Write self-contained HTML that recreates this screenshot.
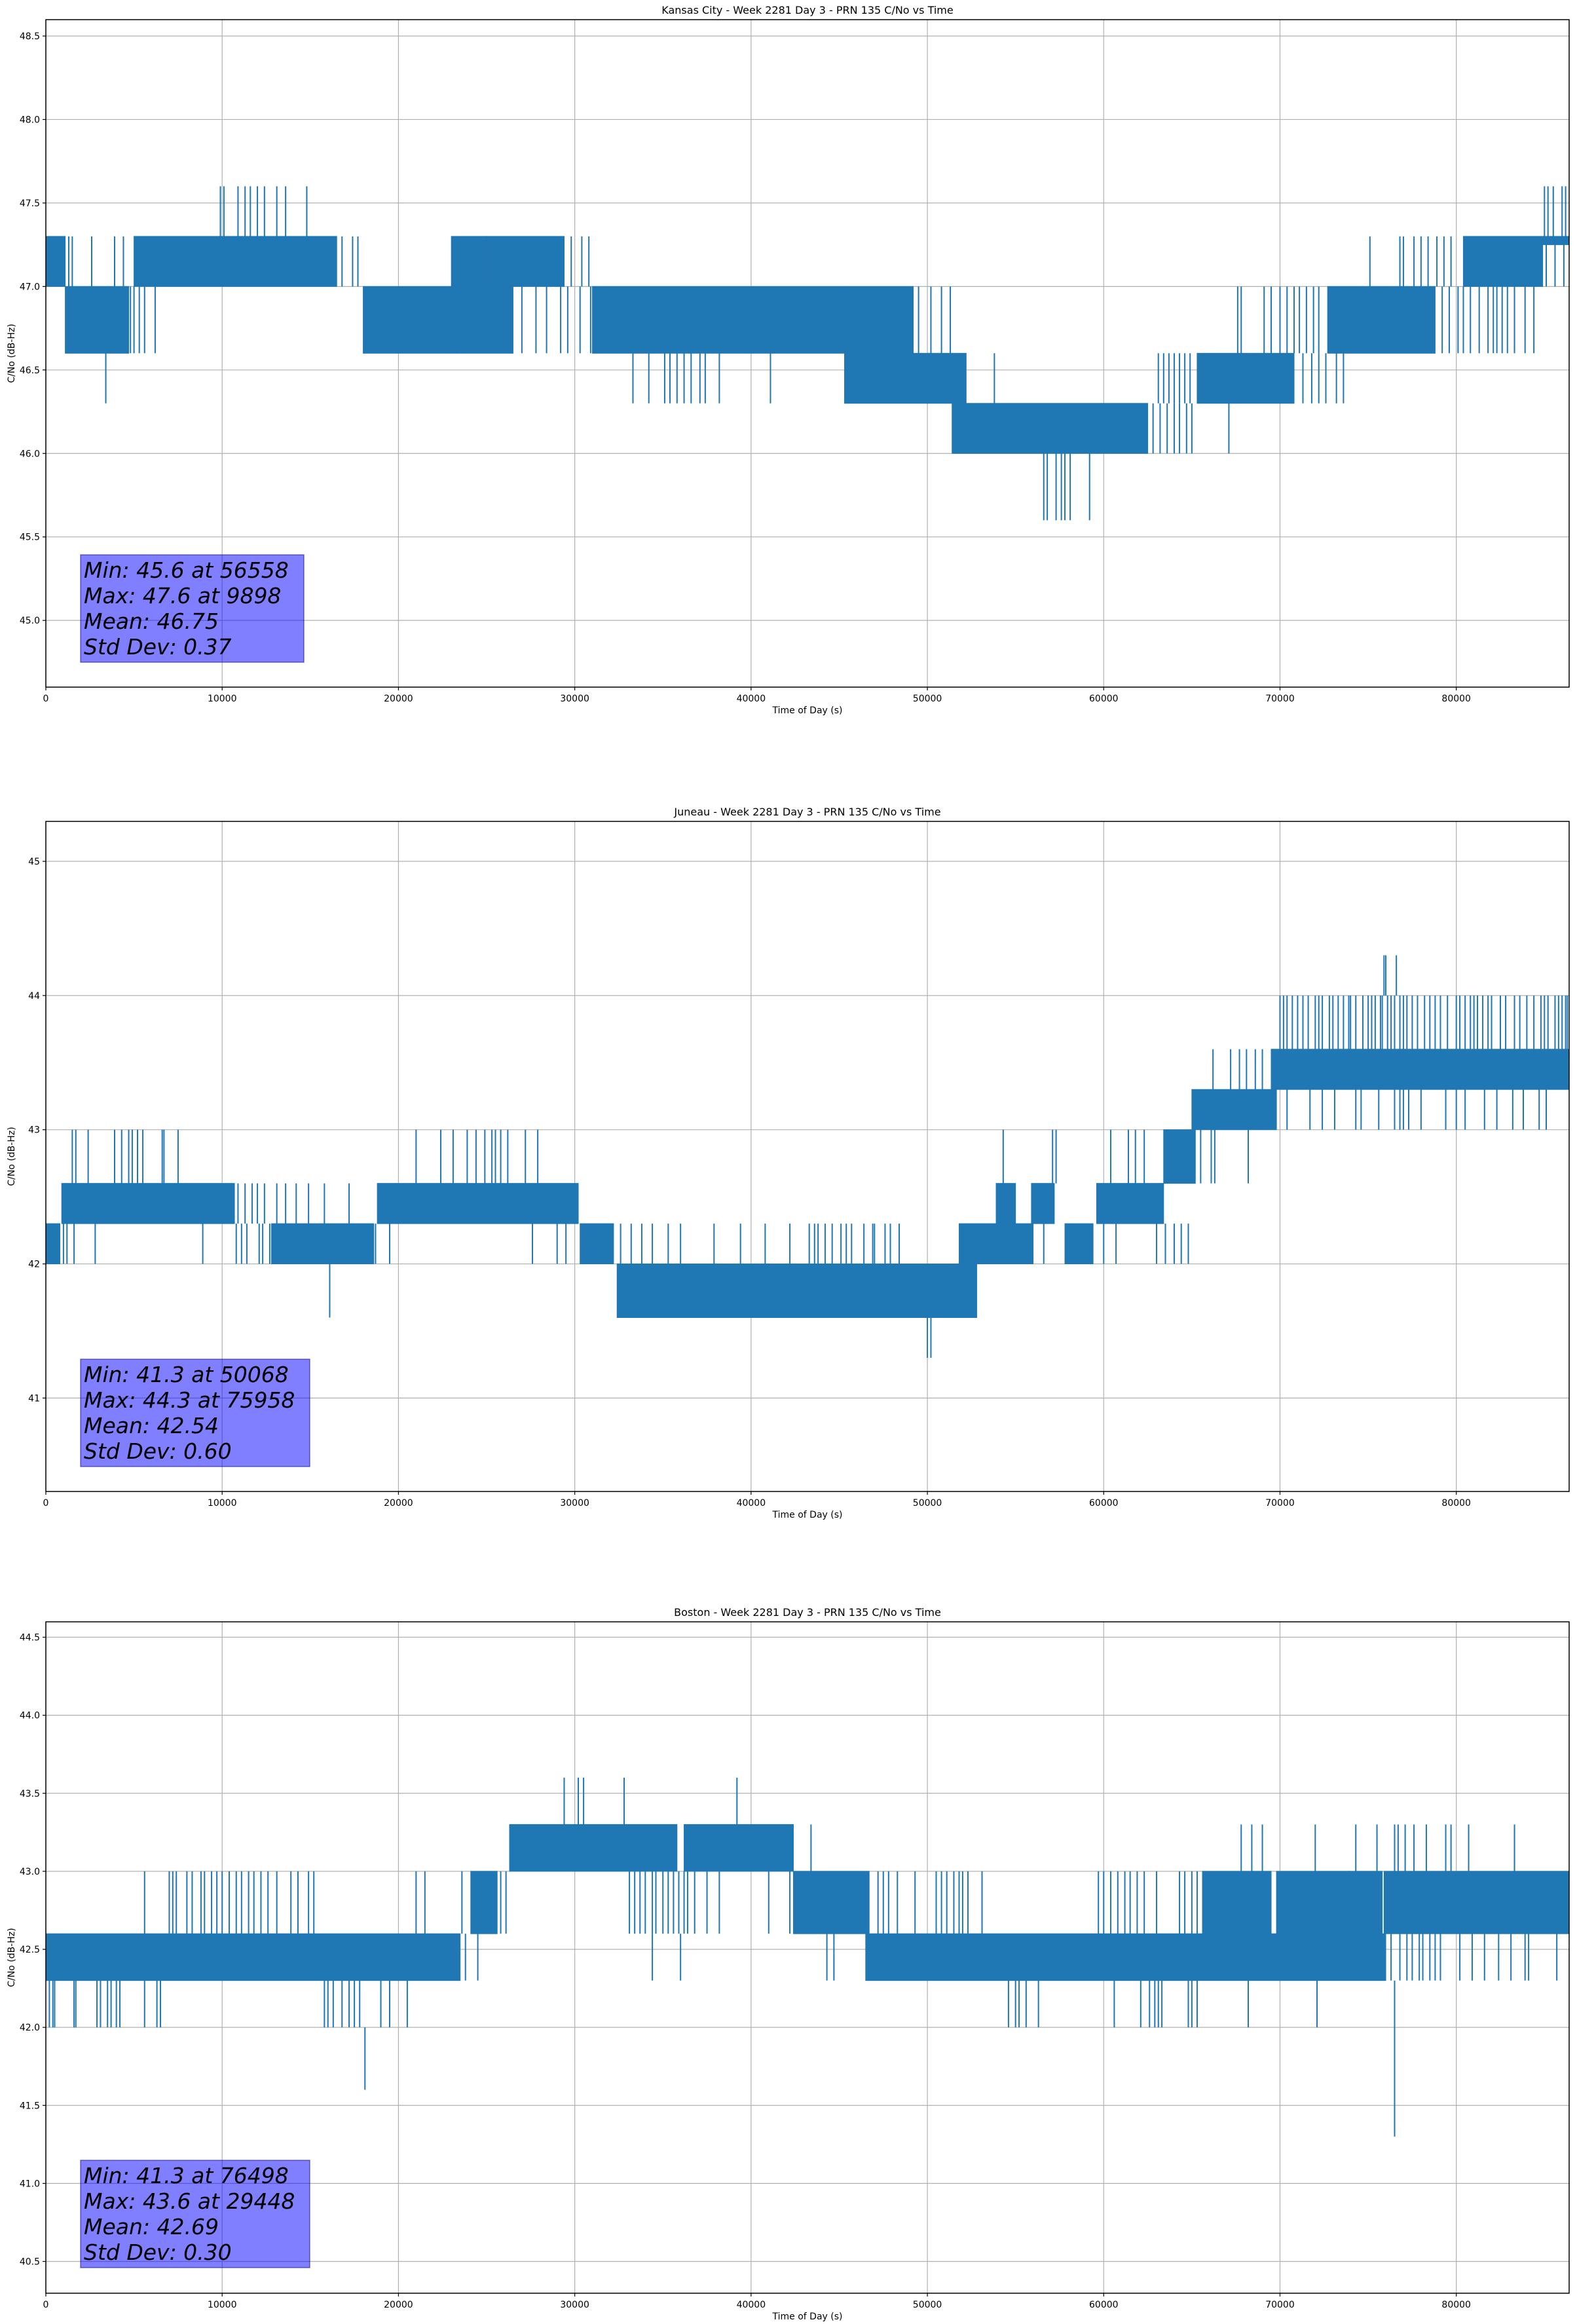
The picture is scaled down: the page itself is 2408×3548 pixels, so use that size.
<!DOCTYPE html>
<html><head><meta charset="utf-8">
<style>
html,body{margin:0;padding:0;background:#fff;}
svg{display:block;}
text{font-family:"DejaVu Sans","Liberation Sans",sans-serif;fill:#000;}
</style></head>
<body>
<svg id="fig" xmlns="http://www.w3.org/2000/svg" width="2408" height="3548" viewBox="0 0 2408 3548"></svg>
<script>
// ---------- shared x axis ----------
const xTickValues = [0,10000,20000,30000,40000,50000,60000,70000,80000];
const xTickLabels = ["0","10000","20000","30000","40000","50000","60000","70000","80000"];

// ---------- Kansas City ----------
const kcTitle = "Kansas City - Week 2281 Day 3 - PRN 135 C/No vs Time";
const kcYTicks = [45.0,45.5,46.0,46.5,47.0,47.5,48.0,48.5];
const kcYTickLabels = ["45.0","45.5","46.0","46.5","47.0","47.5","48.0","48.5"];
const kcBandStart = [0,1100,5000,18000,23300,25000,31000,45300,51400,65300,72700,80400,84900,45300,23000];
const kcBandEnd   = [1100,4700,16500,23300,26500,29400,45300,52200,62500,70800,78800,84900,86400,49200,25000];
const kcBandLow   = [47.0,46.6,47.0,46.6,46.6,47.0,46.6,46.3,46.0,46.3,46.6,47.0,47.25,46.6,47.0];
const kcBandHigh  = [47.3,47.0,47.3,47.0,47.0,47.3,47.0,46.6,46.3,46.6,47.0,47.3,47.3,47.0,47.3];
const kcSpikeT = [4800,5000,5300,5600,6200,16300,16800,17400,17700,23100,23900,24300,29800,30400,30800,
  9900,10100,10900,11300,11600,12000,12400,13100,13600,14800,3400,27000,27800,28400,29200,29600,30300,30900,
  33300,34200,35100,35400,35800,36200,36600,37100,37400,38200,41100,
  49500,50200,50800,51300,
  62800,63200,63600,64000,64300,64700,65000,67100,
  56600,56800,57300,57600,57800,58100,59200,53800,
  63100,63400,63700,64000,64300,64600,64900,71300,71800,72200,72600,73200,73600,
  67600,67800,69100,69500,70000,70400,70800,71100,71500,71900,72200,79200,79600,80100,80400,80800,81300,81800,82300,82900,
  75100,76800,77000,77600,78000,78400,78900,79300,79700,85100,85600,86100,
  85000,85200,85500,86000,86200,
  1300,1500,2600,3900,4400,82100,82600,83300,83900,84400];
const kcSpikeLow = [46.6,46.6,46.6,46.6,46.6,47.0,47.0,47.0,47.0,47.0,47.0,47.0,47.0,47.0,47.0,
  47.3,47.3,47.3,47.3,47.3,47.3,47.3,47.3,47.3,47.3,46.3,46.6,46.6,46.6,46.6,46.6,46.6,46.6,
  46.3,46.3,46.3,46.3,46.3,46.3,46.3,46.3,46.3,46.3,46.3,
  46.6,46.6,46.6,46.6,
  46.0,46.0,46.0,46.0,46.0,46.0,46.0,46.0,
  45.6,45.6,45.6,45.6,45.6,45.6,45.6,46.3,
  46.3,46.3,46.3,46.3,46.3,46.3,46.3,46.3,46.3,46.3,46.3,46.3,46.3,
  46.6,46.6,46.6,46.6,46.6,46.6,46.6,46.6,46.6,46.6,46.6,46.6,46.6,46.6,46.6,46.6,46.6,46.6,46.6,46.6,
  47.0,47.0,47.0,47.0,47.0,47.0,47.0,47.0,47.0,47.0,47.0,47.0,
  47.3,47.3,47.3,47.3,47.3,
  47.0,47.0,47.0,47.0,47.0,46.6,46.6,46.6,46.6,46.6];
const kcSpikeHigh = [47.0,47.0,47.0,47.0,47.0,47.3,47.3,47.3,47.3,47.3,47.3,47.3,47.3,47.3,47.3,
  47.6,47.6,47.6,47.6,47.6,47.6,47.6,47.6,47.6,47.6,46.6,47.0,47.0,47.0,47.0,47.0,47.0,47.0,
  46.6,46.6,46.6,46.6,46.6,46.6,46.6,46.6,46.6,46.6,46.6,
  47.0,47.0,47.0,47.0,
  46.3,46.3,46.3,46.3,46.3,46.3,46.3,46.3,
  46.0,46.0,46.0,46.0,46.0,46.0,46.0,46.6,
  46.6,46.6,46.6,46.6,46.6,46.6,46.6,46.6,46.6,46.6,46.6,46.6,46.6,
  47.0,47.0,47.0,47.0,47.0,47.0,47.0,47.0,47.0,47.0,47.0,47.0,47.0,47.0,47.0,47.0,47.0,47.0,47.0,47.0,
  47.3,47.3,47.3,47.3,47.3,47.3,47.3,47.3,47.3,47.3,47.3,47.3,
  47.6,47.6,47.6,47.6,47.6,
  47.3,47.3,47.3,47.3,47.3,47.0,47.0,47.0,47.0,47.0];
const kcStats = ["Min: 45.6 at 56558","Max: 47.6 at 9898","Mean: 46.75","Std Dev: 0.37"];

// ---------- Juneau ----------
const jnTitle = "Juneau - Week 2281 Day 3 - PRN 135 C/No vs Time";
const jnYTicks = [41,42,43,44,45];
const jnYTickLabels = ["41","42","43","44","45"];
const jnBandStart = [0,900,12800,18800,30300,32400,51800,57800,53900,55900,59600,63400,65000,69500];
const jnBandEnd   = [800,10700,18600,30200,32200,52800,56000,59400,55000,57200,63400,65200,69800,86400];
const jnBandLow   = [42.0,42.3,42.0,42.3,42.0,41.6,42.0,42.0,42.3,42.3,42.3,42.6,43.0,43.3];
const jnBandHigh  = [42.3,42.6,42.3,42.6,42.3,42.0,42.3,42.3,42.6,42.6,42.6,43.0,43.3,43.6];
const jnSpikeT = [1000,1200,1600,2800,8900,10800,11100,11400,12100,12300,12700,18700,19500,27600,29000,29500,32600,33200,33800,
  1500,1700,2400,3900,4300,4700,4900,5200,5500,6600,6700,7500,21000,22400,23100,23900,24400,24900,25300,25500,25800,26200,27200,27900,
  10900,11300,11700,12000,12400,13100,13600,14200,14900,15800,17200,16100,50000,50200,
  34400,35300,36000,37900,39400,40800,42200,43300,43800,44200,45100,45700,46400,47000,47900,48400,56600,60000,60700,63000,
  54300,57100,57300,60400,61400,61800,62300,65500,66100,66300,68200,
  70400,72400,74300,74600,75600,76500,76800,77000,77300,78000,79400,80000,80500,82300,83800,84700,85100,
  66200,67200,67700,68100,68600,69000,
  70000,70400,71300,72000,72400,72800,73300,73600,74000,75200,75700,76100,76500,77200,77500,78200,79100,79500,80000,80500,81200,81800,82500,84000,84400,85200,85600,86000,86300,
  75900,76000,76600,
  70200,70700,71000,71600,72200,73000,73900,74300,74700,75000,75400,75800,76300,76800,77000,77800,78500,78800,80200,80800,81000,81500,82000,82800,83300,83600,84800,85000,85800,86200,
  67400,67900,68400,68800,69300,71700,73100,81600,83200,
  43600,44600,45400,46900,47600,63500,64000,64400,64800];
const jnSpikeLow = [42.0,42.0,42.0,42.0,42.0,42.0,42.0,42.0,42.0,42.0,42.0,42.0,42.0,42.0,42.0,42.0,42.0,42.0,42.0,
  42.6,42.6,42.6,42.6,42.6,42.6,42.6,42.6,42.6,42.6,42.6,42.6,42.6,42.6,42.6,42.6,42.6,42.6,42.6,42.6,42.6,42.6,42.6,42.6,
  42.3,42.3,42.3,42.3,42.3,42.3,42.3,42.3,42.3,42.3,42.3,41.6,41.3,41.3,
  42.0,42.0,42.0,42.0,42.0,42.0,42.0,42.0,42.0,42.0,42.0,42.0,42.0,42.0,42.0,42.0,42.0,42.0,42.0,42.0,
  42.6,42.6,42.6,42.6,42.6,42.6,42.6,42.6,42.6,42.6,42.6,
  43.0,43.0,43.0,43.0,43.0,43.0,43.0,43.0,43.0,43.0,43.0,43.0,43.0,43.0,43.0,43.0,43.0,
  43.3,43.3,43.3,43.3,43.3,43.3,
  43.6,43.6,43.6,43.6,43.6,43.6,43.6,43.6,43.6,43.6,43.6,43.6,43.6,43.6,43.6,43.6,43.6,43.6,43.6,43.6,43.6,43.6,43.6,43.6,43.6,43.6,43.6,43.6,43.6,
  44.0,44.0,44.0,
  43.6,43.6,43.6,43.6,43.6,43.6,43.6,43.6,43.6,43.6,43.6,43.6,43.6,43.6,43.6,43.6,43.6,43.6,43.6,43.6,43.6,43.6,43.6,43.6,43.6,43.6,43.6,43.6,43.6,43.6,
  43.0,43.0,43.0,43.0,43.0,43.0,43.0,43.0,43.0,
  42.0,42.0,42.0,42.0,42.0,42.0,42.0,42.0,42.0];
const jnSpikeHigh = [42.3,42.3,42.3,42.3,42.3,42.3,42.3,42.3,42.3,42.3,42.3,42.3,42.3,42.3,42.3,42.3,42.3,42.3,42.3,
  43.0,43.0,43.0,43.0,43.0,43.0,43.0,43.0,43.0,43.0,43.0,43.0,43.0,43.0,43.0,43.0,43.0,43.0,43.0,43.0,43.0,43.0,43.0,43.0,
  42.6,42.6,42.6,42.6,42.6,42.6,42.6,42.6,42.6,42.6,42.6,42.0,41.6,41.6,
  42.3,42.3,42.3,42.3,42.3,42.3,42.3,42.3,42.3,42.3,42.3,42.3,42.3,42.3,42.3,42.3,42.3,42.3,42.3,42.3,
  43.0,43.0,43.0,43.0,43.0,43.0,43.0,43.0,43.0,43.0,43.0,
  43.3,43.3,43.3,43.3,43.3,43.3,43.3,43.3,43.3,43.3,43.3,43.3,43.3,43.3,43.3,43.3,43.3,
  43.6,43.6,43.6,43.6,43.6,43.6,
  44.0,44.0,44.0,44.0,44.0,44.0,44.0,44.0,44.0,44.0,44.0,44.0,44.0,44.0,44.0,44.0,44.0,44.0,44.0,44.0,44.0,44.0,44.0,44.0,44.0,44.0,44.0,44.0,44.0,
  44.3,44.3,44.3,
  44.0,44.0,44.0,44.0,44.0,44.0,44.0,44.0,44.0,44.0,44.0,44.0,44.0,44.0,44.0,44.0,44.0,44.0,44.0,44.0,44.0,44.0,44.0,44.0,44.0,44.0,44.0,44.0,44.0,44.0,
  43.3,43.3,43.3,43.3,43.3,43.3,43.3,43.3,43.3,
  42.3,42.3,42.3,42.3,42.3,42.3,42.3,42.3,42.3];
const jnStats = ["Min: 41.3 at 50068","Max: 44.3 at 75958","Mean: 42.54","Std Dev: 0.60"];

// ---------- Boston ----------
const bsTitle = "Boston - Week 2281 Day 3 - PRN 135 C/No vs Time";
const bsYTicks = [40.5,41.0,41.5,42.0,42.5,43.0,43.5,44.0,44.5];
const bsYTickLabels = ["40.5","41.0","41.5","42.0","42.5","43.0","43.5","44.0","44.5"];
const bsBandStart = [0,24100,26300,36200,42400,46500,65600,69800,73900,75900,72000];
const bsBandEnd   = [23500,25600,35800,42400,46700,76000,69500,72000,75800,86400,74000];
const bsBandLow   = [42.3,42.6,43.0,43.0,42.6,42.3,42.6,42.6,42.6,42.6,42.6];
const bsBandHigh  = [42.6,43.0,43.3,43.3,43.0,42.6,43.0,43.0,43.0,43.0,43.0];
const bsSpikeT = [23800,24500,44300,44700,77900,78800,83900,84100,85700,34400,36000,
  200,400,500,1600,1700,2900,3100,3500,3700,4000,4200,5600,6300,6500,15800,16000,16300,16800,17200,17500,17800,19000,19500,20500,
  54600,55000,55200,55600,56300,60600,62100,62600,62900,63100,63300,64800,65000,65300,68200,72100,
  18100,76500,
  5600,7000,7200,7400,8000,8300,8800,9000,9400,9700,10000,10400,10800,11100,11500,11800,12200,12600,13100,13900,14300,14900,15200,21000,21500,23600,
  25800,26100,33100,33400,33700,34000,34400,34600,35000,35300,35600,35900,36200,36400,36800,37500,38200,41000,42200,
  47200,47500,47800,48300,49300,50500,50800,51100,51500,51800,52000,52300,53100,59700,60000,60400,60800,61200,61500,61900,62300,63000,64300,64600,65000,65300,72600,73000,73400,
  29400,30200,30500,32800,39200,
  43400,67800,68400,69000,72000,74300,75500,76500,76700,77100,77600,78300,79400,79700,80700,83300,
  76300,76800,77200,77500,78100,78500,79100,80200,80900,81600,82400,83100];
const bsSpikeLow = [42.3,42.3,42.3,42.3,42.3,42.3,42.3,42.3,42.3,42.3,42.3,
  42.0,42.0,42.0,42.0,42.0,42.0,42.0,42.0,42.0,42.0,42.0,42.0,42.0,42.0,42.0,42.0,42.0,42.0,42.0,42.0,42.0,42.0,42.0,42.0,
  42.0,42.0,42.0,42.0,42.0,42.0,42.0,42.0,42.0,42.0,42.0,42.0,42.0,42.0,42.0,42.0,
  41.6,41.3,
  42.6,42.6,42.6,42.6,42.6,42.6,42.6,42.6,42.6,42.6,42.6,42.6,42.6,42.6,42.6,42.6,42.6,42.6,42.6,42.6,42.6,42.6,42.6,42.6,42.6,42.6,
  42.6,42.6,42.6,42.6,42.6,42.6,42.6,42.6,42.6,42.6,42.6,42.6,42.6,42.6,42.6,42.6,42.6,42.6,42.6,
  42.6,42.6,42.6,42.6,42.6,42.6,42.6,42.6,42.6,42.6,42.6,42.6,42.6,42.6,42.6,42.6,42.6,42.6,42.6,42.6,42.6,42.6,42.6,42.6,42.6,42.6,42.6,42.6,42.6,
  43.3,43.3,43.3,43.3,43.3,
  43.0,43.0,43.0,43.0,43.0,43.0,43.0,43.0,43.0,43.0,43.0,43.0,43.0,43.0,43.0,43.0,
  42.3,42.3,42.3,42.3,42.3,42.3,42.3,42.3,42.3,42.3,42.3,42.3];
const bsSpikeHigh = [42.6,42.6,42.6,42.6,42.6,42.6,42.6,42.6,42.6,42.6,42.6,
  42.3,42.3,42.3,42.3,42.3,42.3,42.3,42.3,42.3,42.3,42.3,42.3,42.3,42.3,42.3,42.3,42.3,42.3,42.3,42.3,42.3,42.3,42.3,42.3,
  42.3,42.3,42.3,42.3,42.3,42.3,42.3,42.3,42.3,42.3,42.3,42.3,42.3,42.3,42.3,42.3,
  42.0,42.3,
  43.0,43.0,43.0,43.0,43.0,43.0,43.0,43.0,43.0,43.0,43.0,43.0,43.0,43.0,43.0,43.0,43.0,43.0,43.0,43.0,43.0,43.0,43.0,43.0,43.0,43.0,
  43.0,43.0,43.0,43.0,43.0,43.0,43.0,43.0,43.0,43.0,43.0,43.0,43.0,43.0,43.0,43.0,43.0,43.0,43.0,
  43.0,43.0,43.0,43.0,43.0,43.0,43.0,43.0,43.0,43.0,43.0,43.0,43.0,43.0,43.0,43.0,43.0,43.0,43.0,43.0,43.0,43.0,43.0,43.0,43.0,43.0,43.0,43.0,43.0,
  43.6,43.6,43.6,43.6,43.6,
  43.3,43.3,43.3,43.3,43.3,43.3,43.3,43.3,43.3,43.3,43.3,43.3,43.3,43.3,43.3,43.3,
  42.6,42.6,42.6,42.6,42.6,42.6,42.6,42.6,42.6,42.6,42.6,42.6];
const bsStats = ["Min: 41.3 at 76498","Max: 43.6 at 29448","Mean: 42.69","Std Dev: 0.30"];

const NS = "http://www.w3.org/2000/svg";
const svg = document.getElementById("fig");
function mk(tag, attrs, parent){
  const e = document.createElementNS(NS, tag);
  for (const k in attrs) e.setAttribute(k, attrs[k]);
  parent.appendChild(e);
  return e;
}

const LEFT = 70, RIGHT = 2396, XMAX = 86400;
function xScale(t){ return LEFT + t * (RIGHT - LEFT) / XMAX; }

function drawChart(key, cfg, title, yTicks, yTickLabels, bS, bE, bL, bH, sT, sL, sH, stats){
  const yScale = v => cfg.y0px + (cfg.v0 - v) * cfg.pxPerUnit;
  const g = mk("g", {}, svg);
  
  

  const grid = mk("g", {stroke:"#b0b0b0","stroke-width":"1.2"}, g);
  
  
  xTickValues.forEach(v => {
    const l = mk("line", {x1:xScale(v), x2:xScale(v), y1:cfg.top, y2:cfg.bottom}, grid);
    
    
  });
  yTicks.forEach(v => {
    const l = mk("line", {x1:LEFT, x2:RIGHT, y1:yScale(v), y2:yScale(v)}, grid);
    
    
  });

  const series = mk("g", {fill:"#1f77b4", stroke:"#1f77b4"}, g);
  
  
  for (let i = 0; i < bS.length; i++){
    const x1 = xScale(bS[i]), x2 = xScale(bE[i]);
    const y1 = yScale(bH[i]), y2 = yScale(bL[i]);
    const r = mk("rect", {x:x1, y:y1, width:Math.max(1, x2 - x1), height:Math.max(1.5, y2 - y1), "stroke-width":"1"}, series);
    
    
  }
  for (let i = 0; i < sT.length; i++){
    const x = xScale(sT[i]);
    const l = mk("line", {x1:x, x2:x, y1:yScale(sL[i]), y2:yScale(sH[i]), "stroke-width":"2"}, series);
    
    
  }

  const sp = mk("rect", {x:LEFT, y:cfg.top, width:RIGHT-LEFT, height:cfg.bottom-cfg.top, fill:"none", stroke:"#000", "stroke-width":"1.5"}, g);
  
  

  xTickValues.forEach((v, i) => {
    const x = xScale(v);
    const t = mk("line", {x1:x, x2:x, y1:cfg.bottom, y2:cfg.bottom+5, stroke:"#000", "stroke-width":"1.2"}, g);
    
    
    const tx = mk("text", {x:x, y:cfg.bottom+22, "text-anchor":"middle", "font-size":"14"}, g);
    tx.textContent = xTickLabels[i];
    
    
  });
  yTicks.forEach((v, i) => {
    const y = yScale(v);
    const t = mk("line", {x1:LEFT-5, x2:LEFT, y1:y, y2:y, stroke:"#000", "stroke-width":"1.2"}, g);
    
    
    const tx = mk("text", {x:LEFT-9, y:y+5, "text-anchor":"end", "font-size":"14"}, g);
    tx.textContent = yTickLabels[i];
    
    
  });

  const tt = mk("text", {x:(LEFT+RIGHT)/2, y:cfg.top-9, "text-anchor":"middle", "font-size":"16"}, g);
  tt.textContent = title;
  
  
  const xl = mk("text", {x:(LEFT+RIGHT)/2, y:cfg.bottom+40, "text-anchor":"middle", "font-size":"14"}, g);
  xl.textContent = "Time of Day (s)";
  
  
  const cy = (cfg.top + cfg.bottom) / 2;
  const yl = mk("text", {x:22, y:cy, "text-anchor":"middle", "font-size":"14", transform:"rotate(-90 22 "+cy+")"}, g);
  yl.textContent = "C/No (dB-Hz)";
  
  

  const bx = mk("g", {}, g);
  
  
  const br = mk("rect", {x:123, y:cfg.boxTop, width:cfg.boxW, height:164, fill:"rgba(0,0,255,0.5)", stroke:"rgba(0,0,128,0.5)", "stroke-width":"1.5"}, bx);
  
  
  stats.forEach((s, i) => {
    const t = mk("text", {x:128, y:cfg.boxTop + 35 + i*39, "font-size":"33", "font-style":"italic"}, bx);
    t.textContent = s;
    
    
  });
}

drawChart("kansas-city", {top:30, bottom:1049, y0px:55, v0:48.5, pxPerUnit:254.9, boxTop:847, boxW:341},
  kcTitle, kcYTicks, kcYTickLabels, kcBandStart, kcBandEnd, kcBandLow, kcBandHigh, kcSpikeT, kcSpikeLow, kcSpikeHigh, kcStats);
drawChart("juneau", {top:1254, bottom:2277, y0px:1315, v0:45, pxPerUnit:204.85, boxTop:2075, boxW:350},
  jnTitle, jnYTicks, jnYTickLabels, jnBandStart, jnBandEnd, jnBandLow, jnBandHigh, jnSpikeT, jnSpikeLow, jnSpikeHigh, jnStats);
drawChart("boston", {top:2476, bottom:3501, y0px:2499.5, v0:44.5, pxPerUnit:238.25, boxTop:3298, boxW:350},
  bsTitle, bsYTicks, bsYTickLabels, bsBandStart, bsBandEnd, bsBandLow, bsBandHigh, bsSpikeT, bsSpikeLow, bsSpikeHigh, bsStats);
</script>
</body></html>
